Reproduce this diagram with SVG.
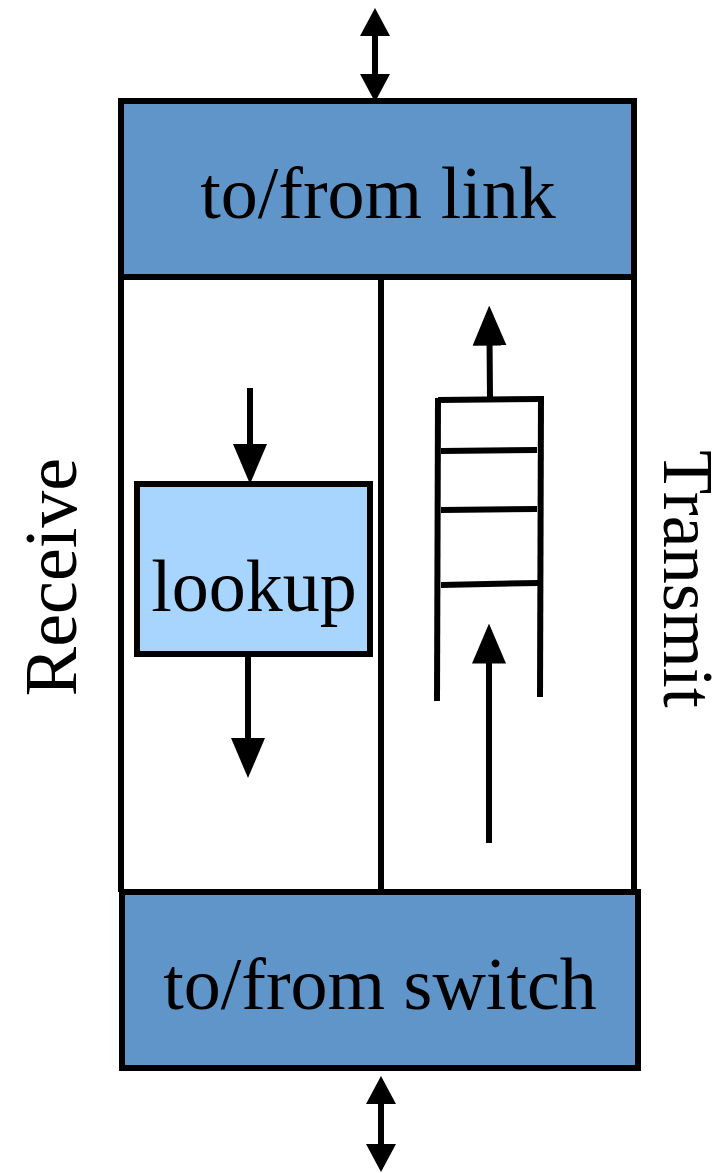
<svg xmlns="http://www.w3.org/2000/svg" width="728" height="1173" viewBox="0 0 728 1173">
  <style>
    .box { stroke: #000; stroke-width: 6; }
    .port { fill: #5F95C8; }
    .unit { fill: #A8D5FE; }
    .frame { fill: none; stroke: #000; stroke-width: 6; }
    .line { fill: none; stroke: #000; stroke-width: 6; }
    .label { font-family: "Liberation Serif", "Times New Roman", serif; fill: #000; font-size: 74px; }
  </style>
  <defs>
    <!-- reference point sits 20% into the head so the shaft ends under it -->
    <marker id="head" viewBox="0 0 10 10" refX="2" refY="5" markerWidth="28" markerHeight="30" markerUnits="userSpaceOnUse" preserveAspectRatio="none" orient="auto-start-reverse">
      <path d="M0,0 L10,5 L0,10 Z" fill="#000"/>
    </marker>
    <marker id="head-lg" viewBox="0 0 10 10" refX="2" refY="5" markerWidth="40" markerHeight="34" markerUnits="userSpaceOnUse" preserveAspectRatio="none" orient="auto-start-reverse">
      <path d="M0,0 L10,5 L0,10 Z" fill="#000"/>
    </marker>
  </defs>

  <!-- receive / transmit frame -->
  <g id="frame">
    <line class="frame" x1="121" y1="276" x2="121" y2="892"/>
    <line class="frame" x1="634" y1="276" x2="634" y2="892"/>
    <line class="frame" x1="381" y1="278" x2="381" y2="891"/>
  </g>

  <g id="link">
    <rect class="box port" x="121" y="101" width="513" height="176"/>
    <text class="label" x="378" y="218" text-anchor="middle">to/from link</text>
  </g>

  <g id="switch">
    <rect class="box port" x="122" y="892" width="516" height="176"/>
    <text class="label" x="380" y="1009" text-anchor="middle">to/from switch</text>
  </g>

  <g id="lookup">
    <rect class="box unit" x="137" y="484" width="233" height="170"/>
    <text class="label" x="254" y="611" text-anchor="middle">lookup</text>
  </g>

  <g id="queue">
    <line class="line" x1="438" y1="398" x2="437" y2="701"/>
    <line class="line" x1="541" y1="396" x2="540" y2="697"/>
    <line class="line" x1="438" y1="400" x2="541" y2="399"/>
    <line class="line" x1="441" y1="451" x2="537" y2="450"/>
    <line class="line" x1="441" y1="510" x2="537" y2="509"/>
    <line class="line" x1="441" y1="585" x2="538" y2="583"/>
  </g>

  <g id="receive-label">
    <text class="label" transform="translate(76,577) rotate(-90)" text-anchor="middle">Receive</text>
  </g>
  <g id="transmit-label">
    <text class="label" transform="translate(664,579) rotate(90)" text-anchor="middle" style="font-size:72px">Transmit</text>
  </g>

  <!-- connectors -->
  <g id="connectors" class="line">
    <line x1="375" y1="30.4" x2="375" y2="79.6" marker-start="url(#head)" marker-end="url(#head)"/>
    <line x1="381" y1="1098.4" x2="381" y2="1149.6" marker-start="url(#head)" marker-end="url(#head)"/>
    <line x1="250" y1="388" x2="250" y2="452" marker-end="url(#head-lg)"/>
    <line x1="248" y1="656" x2="248" y2="746" marker-end="url(#head-lg)"/>
    <line x1="490" y1="398" x2="489.5" y2="337.6" marker-end="url(#head-lg)"/>
    <line x1="489" y1="843" x2="489" y2="655.6" marker-end="url(#head-lg)"/>
  </g>
</svg>
